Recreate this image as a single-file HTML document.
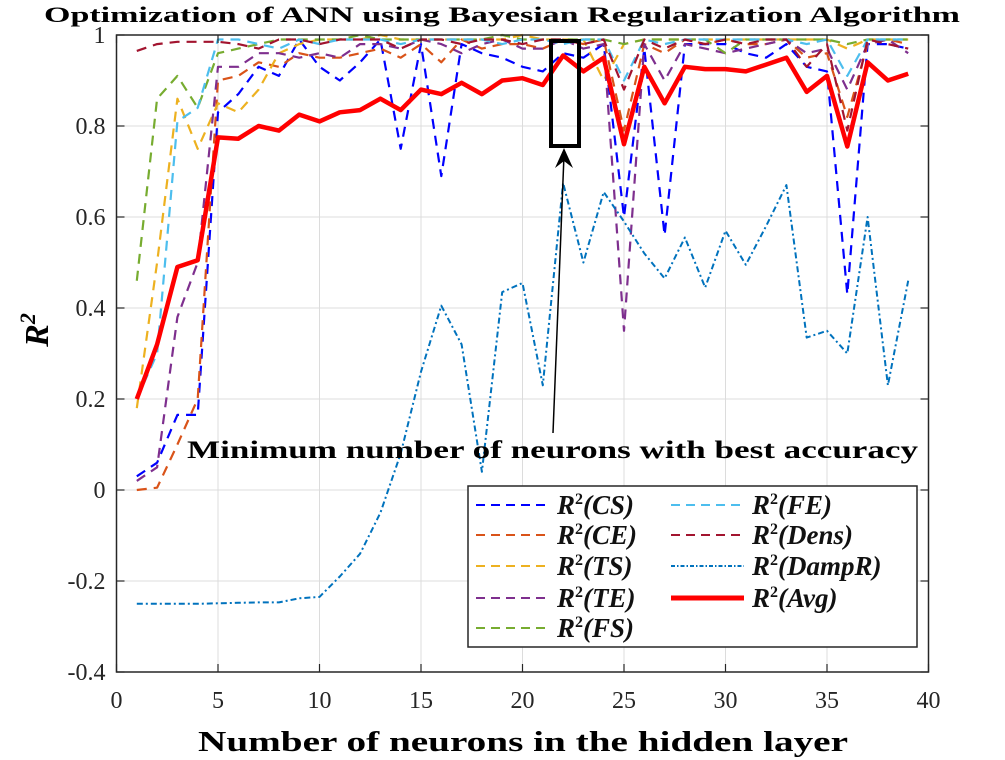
<!DOCTYPE html>
<html><head><meta charset="utf-8"><style>
html,body{margin:0;padding:0;background:#fff;}
svg{display:block;font-family:"Liberation Serif",serif;}
</style></head><body>
<svg id="chart" width="1005" height="760" viewBox="0 0 1005 760">
<rect x="0" y="0" width="1005" height="760" fill="#fff"/>
<g id="grid"></g>
<g id="series"></g>
<g id="axes"></g>
<text x="502" y="22" text-anchor="middle" font-size="22" font-weight="bold" textLength="916" lengthAdjust="spacingAndGlyphs">Optimization of ANN using Bayesian Regularization Algorithm</text>
<text x="523" y="751" text-anchor="middle" font-size="28" font-weight="bold" textLength="650" lengthAdjust="spacingAndGlyphs">Number of neurons in the hidden layer</text>
<text transform="translate(48,330) rotate(-90)" text-anchor="middle" font-size="34" font-weight="bold" font-style="italic">R<tspan dy="-13" font-size="22">2</tspan></text>
<rect x="551" y="41" width="28" height="105" fill="none" stroke="#000" stroke-width="4"/>
<line x1="553" y1="433" x2="564" y2="155" stroke="#000" stroke-width="1.5"/>
<path d="M564,148 L555,168 L564,161 L573,168 Z" fill="#000"/>
<text x="187" y="458" font-size="25" font-weight="bold" textLength="731" lengthAdjust="spacingAndGlyphs">Minimum number of neurons with best accuracy</text>
<g id="legend"></g>
</svg>
<script>
const xs = [1,2,3,4,5,6,7,8,9,10,11,12,13,14,15,16,17,18,19,20,21,22,23,24,25,26,27,28,29,30,31,32,33,34,35,36,37,38,39];
const cs = [0.03,0.06,0.165,0.165,0.83,0.87,0.93,0.91,0.99,0.93,0.90,0.94,0.99,0.75,0.98,0.69,0.98,0.96,0.95,0.93,0.92,0.96,0.95,0.98,0.60,0.97,0.56,0.98,0.98,0.98,0.96,0.95,0.98,0.93,0.92,0.43,0.98,0.98,0.97];
const ce = [0.0,0.005,0.1,0.2,0.90,0.91,0.94,0.93,0.96,0.95,0.95,0.96,0.97,0.95,0.98,0.94,0.99,0.97,0.98,0.98,0.97,0.99,0.98,0.99,0.79,0.98,0.96,0.99,0.98,0.99,0.98,0.98,0.99,0.95,0.96,0.82,0.98,0.99,0.98];
const ts = [0.18,0.5,0.86,0.75,0.85,0.83,0.88,0.96,0.98,0.99,0.99,0.99,1.0,0.99,0.99,0.99,0.99,0.99,0.99,1.0,0.99,0.99,0.99,0.90,0.98,0.99,0.99,0.99,0.99,0.99,0.99,0.99,0.99,0.99,0.99,0.97,0.99,0.99,0.99];
const te = [0.02,0.05,0.38,0.5,0.93,0.93,0.96,0.96,0.95,0.96,0.95,0.98,0.98,0.97,0.99,0.98,0.96,0.98,0.99,0.97,0.97,0.99,0.97,0.98,0.35,0.98,0.90,0.98,0.97,0.96,0.97,0.98,0.99,0.96,0.97,0.88,0.98,0.99,0.96];
const fs = [0.46,0.86,0.91,0.84,0.96,0.97,0.98,0.99,0.99,0.99,0.99,1.0,0.99,0.99,0.99,0.99,0.99,0.99,1.0,0.99,0.99,0.99,0.99,0.99,0.98,0.99,0.99,0.99,0.99,0.96,0.99,0.99,0.99,0.99,0.99,0.98,0.99,0.99,0.99];
const fe = [0.2,0.3,0.81,0.84,0.99,0.99,0.98,0.97,0.99,0.98,0.99,0.99,0.99,0.98,0.99,0.99,0.99,0.99,0.98,0.99,0.99,0.98,0.99,0.99,0.90,0.99,0.98,0.99,0.99,0.99,0.99,0.99,0.99,0.98,0.99,0.91,0.99,0.99,0.99];
const dens = [0.965,0.98,0.985,0.985,0.985,0.98,0.97,0.99,0.99,0.98,0.99,0.99,0.99,0.97,0.99,0.99,0.98,0.99,0.99,0.98,0.99,0.99,0.98,0.99,0.88,0.99,0.97,0.99,0.98,0.99,0.98,0.99,0.99,0.93,0.98,0.79,0.99,0.98,0.97];
const dampR = [-0.25,-0.25,-0.25,-0.25,-0.249,-0.248,-0.247,-0.247,-0.238,-0.235,-0.19,-0.14,-0.05,0.08,0.26,0.405,0.32,0.04,0.435,0.455,0.23,0.675,0.5,0.655,0.59,0.52,0.465,0.555,0.445,0.57,0.495,0.58,0.67,0.335,0.35,0.3,0.6,0.23,0.46];
const avg = [0.2,0.32,0.49,0.505,0.775,0.772,0.80,0.79,0.825,0.81,0.83,0.835,0.86,0.835,0.88,0.87,0.895,0.87,0.9,0.905,0.89,0.955,0.92,0.95,0.76,0.93,0.85,0.93,0.925,0.925,0.92,0.935,0.95,0.875,0.91,0.755,0.94,0.90,0.915];
const xTicks = [0,5,10,15,20,25,30,35,40];
const yTicks = [-0.4,-0.2,0,0.2,0.4,0.6,0.8,1];
const yTickLabels = ["-0.4","-0.2","0","0.2","0.4","0.6","0.8","1"];

const NS = "http://www.w3.org/2000/svg";
const L=116.5, R=928.5, T=35, B=672;
function X(v){return L+(v-0)/(40-0)*(R-L);}
function Y(v){return B-(v-(-0.4))/(1-(-0.4))*(B-T);}
function mk(tag,attrs,parent){const e=document.createElementNS(NS,tag);for(const k in attrs)e.setAttribute(k,attrs[k]);parent.appendChild(e);return e;}

const grid=document.getElementById('grid');
xTicks.forEach(t=>{
  const l=mk('line',{x1:X(t),x2:X(t),y1:T,y2:B,stroke:'#dcdcdc','stroke-width':1},grid);
  
  
});
yTicks.forEach(t=>{
  const l=mk('line',{x1:L,x2:R,y1:Y(t),y2:Y(t),stroke:'#dcdcdc','stroke-width':1},grid);
  
  
});

const seriesDefs=[
 {d:cs,c:'#0000ff',name:'series-cs',dash:'10,7',w:2.2},
 {d:ce,c:'#d95319',name:'series-ce',dash:'10,7',w:2.2},
 {d:ts,c:'#edb120',name:'series-ts',dash:'10,7',w:2.2},
 {d:te,c:'#7e2f8e',name:'series-te',dash:'10,7',w:2.2},
 {d:fs,c:'#77ac30',name:'series-fs',dash:'10,7',w:2.2},
 {d:fe,c:'#4dbeee',name:'series-fe',dash:'10,7',w:2.2},
 {d:dens,c:'#a2142f',name:'series-dens',dash:'10,7',w:2.2},
 {d:dampR,c:'#0072bd',name:'series-dampr',dash:'6,3,2,3',w:2},
 {d:avg,c:'#ff0000',name:'series-avg',dash:'none',w:4.5}
];
const sg=document.getElementById('series');
seriesDefs.forEach(s=>{
  const pts=s.d.map((v,i)=>X(xs[i]).toFixed(1)+','+Y(v).toFixed(1)).join(' ');
  const p=mk('polyline',{points:pts,fill:'none',stroke:s.c,'stroke-width':s.w,'stroke-dasharray':s.dash,'stroke-linejoin':'round'},sg);
  
  
});

const ax=document.getElementById('axes');
const frame=mk('rect',{x:L,y:T,width:R-L,height:B-T,fill:'none',stroke:'#262626','stroke-width':1.5},ax);


xTicks.forEach(t=>{
  mk('line',{x1:X(t),x2:X(t),y1:B,y2:B-8,stroke:'#262626','stroke-width':1.2},ax);
  mk('line',{x1:X(t),x2:X(t),y1:T,y2:T+8,stroke:'#262626','stroke-width':1.2},ax);
  const tx=mk('text',{x:X(t),y:B+36,'text-anchor':'middle','font-size':24,fill:'#262626'},ax);
  tx.textContent=String(t);
  
  
});
yTicks.forEach((t,i)=>{
  mk('line',{x1:L,x2:L+8,y1:Y(t),y2:Y(t),stroke:'#262626','stroke-width':1.2},ax);
  mk('line',{x1:R,x2:R-8,y1:Y(t),y2:Y(t),stroke:'#262626','stroke-width':1.2},ax);
  const tx=mk('text',{x:L-11,y:Y(t)+8,'text-anchor':'end','font-size':24,fill:'#262626'},ax);
  tx.textContent=yTickLabels[i];
  
  
});

const lg=document.getElementById('legend');
const box=mk('rect',{x:468,y:486,width:449,height:161,fill:'#fff',stroke:'#262626','stroke-width':1.5},lg);


const legendLabels=['CS','CE','TS','TE','FS','FE','Dens','DampR','Avg'];
const rowsY=[505,535,566,598,628];
seriesDefs.forEach((s,i)=>{
  const col=i<5?0:1, row=i<5?i:i-5;
  const lx=col===0?476:671, tx=col===0?557:752, y=rowsY[row];
  const ln=mk('line',{x1:lx,x2:lx+73,y1:y,y2:y,stroke:s.c,'stroke-width':i===8?5:2,'stroke-dasharray':i===8?'none':(i===7?'4,2,1.5,2':'9,6')},lg);
  
  
  const t=mk('text',{x:tx,y:y+9,'font-size':27,'font-weight':'bold','font-style':'italic',fill:'#111'},lg);
  t.innerHTML='R<tspan dy="-10" font-size="16" font-style="normal">2</tspan><tspan dy="10">('+legendLabels[i]+')</tspan>';
  
  
});
</script>
</body></html>
